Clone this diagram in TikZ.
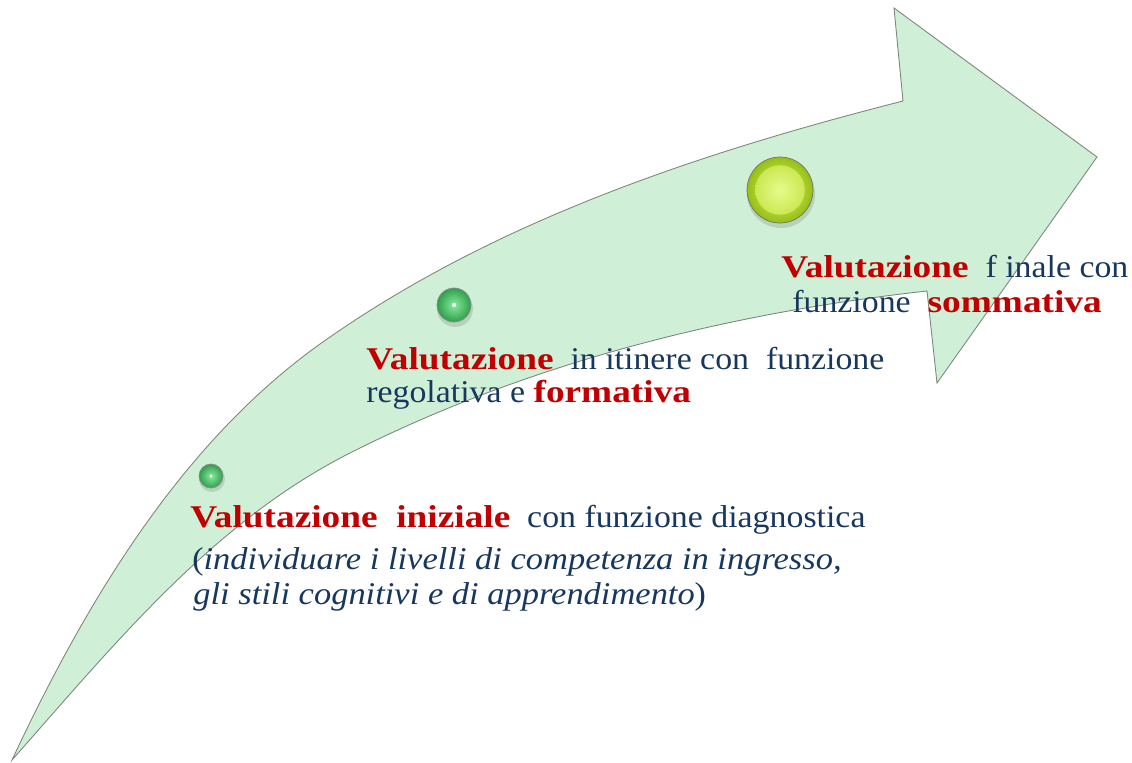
\documentclass[tikz,border=0pt]{standalone}
\usepackage{fontspec}
\setmainfont{Liberation Serif}[FakeStretch=1.07,
  BoldFeatures={FakeStretch=1.18}, ItalicFeatures={FakeStretch=1.09}]
\usetikzlibrary{positioning}

\definecolor{arrowfill}{RGB}{208,239,215}
\definecolor{arrowedge}{RGB}{125,135,125}
\definecolor{keyred}{RGB}{192,0,0}
\definecolor{textblue}{RGB}{23,55,94}
\definecolor{btngreen}{RGB}{45,160,75}
\definecolor{btnlight}{RGB}{140,232,160}
\definecolor{btnlime}{RGB}{150,190,20}
\definecolor{btnlimelight}{RGB}{225,250,110}

\tikzset{
  line/.style={anchor=base west, inner sep=0pt, text=textblue,
    font=\fontsize{18}{21}\selectfont},
  button/.style={draw=black!45, line width=0.4pt},
  shadow/.style={fill=black, opacity=0.12},
}
\newcommand{\kw}[1]{\textcolor{keyred}{\textbf{#1}}}

\begin{document}
\begin{tikzpicture}[x=0.02cm, y=-0.02cm]
    \useasboundingbox (0,0) rectangle (1132,763);

    \def\rsmall{12}  % first button
    \def\rmid{17}    % second button
    \def\rbig{33}    % last button

    % Curved arrow
    \draw[fill=arrowfill, draw=arrowedge, line width=0.5pt, line join=miter]
        (12,760) .. controls (87,600) and (184,437) .. (330,337)
        .. controls (500,219) and (703,152) .. (903,101)
        -- (894,8) -- (1097,157) -- (937,383) -- (927,291)
        .. controls (728,313) and (528,363) .. (350,453)
        .. controls (214,522) and (118,640) .. (12,760)
        -- cycle;

    % Buttons
    \fill[shadow] (212,479) circle (\rsmall+1);
    \shade[button, inner color=btnlight, outer color=btngreen] (211,476) circle (\rsmall);
    \fill[white!70!btnlight] (211,476) circle (1.6);
    \fill[shadow] (455,309) circle (\rmid+1);
    \shade[button, inner color=btnlight, outer color=btngreen] (454,305) circle (\rmid);
    \fill[white!70!btnlight] (454,305) circle (2.2);
    \fill[shadow] (781,194) circle (\rbig+1);
    \shade[button, draw=black!55, inner color=btnlimelight, outer color=btnlime] (780,190) circle (\rbig);
    \shade[inner color=btnlimelight!80!white, outer color=btnlimelight!70!btnlime] (780,190) circle (0.75*\rbig);

    % Text
    \node[line] (first) at (190,527) {\kw{Valutazione\ \ iniziale}\ \ con funzione diagnostica};
    \node[line] (firsta) at (192,569) {(\textit{individuare i livelli di competenza in ingresso,}};
    \node[line] (firstb) at (193,604) {\textit{gli stili cognitivi e di apprendimento})};

    \node[line] (second) at (366,370) {\kw{Valutazione}\ \ in itinere con\ \ funzione};
    \node[line] (seconda) at (366,402) {regolativa e \kw{formativa}};

    \node[line] (third) at (781,278) {\kw{Valutazione}\ \ f inale con};
    \node[line] (thirda) at (792,313) {funzione\ \ \kw{sommativa}};
\end{tikzpicture}
\end{document}
